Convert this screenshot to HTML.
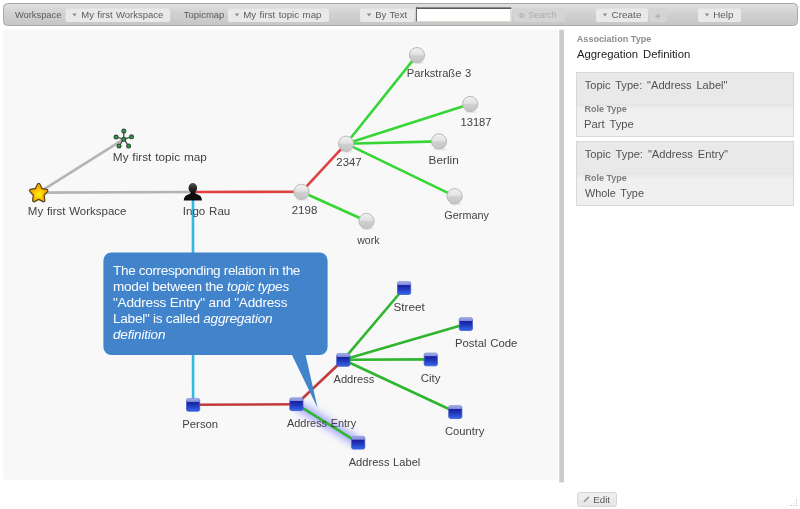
<!DOCTYPE html>
<html><head><meta charset="utf-8"><title>DeepaMehta</title>
<style>
html,body{margin:0;padding:0;background:#fff;width:800px;height:509px;overflow:hidden}
svg{display:block;position:absolute;left:0;top:0}
text{font-family:"Liberation Sans",sans-serif;opacity:0.99}
.lb{font-size:10px;fill:#404040;word-spacing:0.5px}
.tb{font-size:8.6px;fill:#5a5a5a;word-spacing:0.7px}
.tbd{font-size:8.6px;fill:#aaaaaa}
.sb{font-size:10px;fill:#505050;word-spacing:1.6px}
.sh{font-size:8.5px;font-weight:bold;fill:#7c7c7c}
.co{font-size:13.6px;fill:#fff}
</style></head><body>
<svg width="800" height="509" viewBox="0 0 800 509">
<defs>
<linearGradient id="tbg" x1="0" y1="0" x2="0" y2="1"><stop offset="0" stop-color="#e0e0e0"/><stop offset="0.5" stop-color="#d0d0d0"/><stop offset="1" stop-color="#c6c6c6"/></linearGradient>
<linearGradient id="ball" x1="0" y1="0" x2="0" y2="1"><stop offset="0" stop-color="#f2f2f2"/><stop offset="0.45" stop-color="#e2e2e2"/><stop offset="0.55" stop-color="#cfcfcf"/><stop offset="1" stop-color="#c4c4c4"/></linearGradient>
<linearGradient id="sq" x1="0" y1="0" x2="0" y2="1"><stop offset="0" stop-color="#aab4ea"/><stop offset="0.08" stop-color="#98a4e4"/><stop offset="0.24" stop-color="#7c8cd8"/><stop offset="0.28" stop-color="#1a1fa0"/><stop offset="0.55" stop-color="#2034b6"/><stop offset="1" stop-color="#3468ea"/></linearGradient>
<linearGradient id="sqb" x1="0" y1="0" x2="0" y2="1"><stop offset="0" stop-color="#8c98dc"/><stop offset="0.25" stop-color="#5060c0"/><stop offset="1" stop-color="#3454d0"/></linearGradient>
<radialGradient id="starg" cx="0.5" cy="0.55" r="0.5"><stop offset="0" stop-color="#ffe800"/><stop offset="0.6" stop-color="#ffb000"/><stop offset="1" stop-color="#f09000"/></radialGradient>
<radialGradient id="starg2" cx="0.5" cy="0.55" r="0.5"><stop offset="0" stop-color="#fff000"/><stop offset="0.35" stop-color="#ffd800"/><stop offset="0.8" stop-color="#fbb000" stop-opacity="0.6"/><stop offset="1" stop-color="#f7a800" stop-opacity="0"/></radialGradient>
<clipPath id="starclip"><path d="M0.00 -8.30 L2.53 -3.48 L7.89 -2.56 L4.09 1.33 L4.88 6.71 L0.00 4.30 L-4.88 6.71 L-4.09 1.33 L-7.89 -2.56 L-2.53 -3.48Z"/></clipPath>
<linearGradient id="headg" x1="0" y1="0" x2="0" y2="1"><stop offset="0" stop-color="#555"/><stop offset="0.5" stop-color="#2a2a2a"/><stop offset="1" stop-color="#0c0c0c"/></linearGradient>
<linearGradient id="edg" x1="0" y1="0" x2="0" y2="1"><stop offset="0" stop-color="#efefef"/><stop offset="0.5" stop-color="#ebebeb"/><stop offset="0.55" stop-color="#e7e7e7"/><stop offset="1" stop-color="#e7e7e7"/></linearGradient>
<linearGradient id="hdr" x1="0" y1="0" x2="0" y2="1"><stop offset="0" stop-color="#e4e4e4"/><stop offset="1" stop-color="#efefef"/></linearGradient>
<filter id="glow" x="-50%" y="-50%" width="200%" height="200%"><feGaussianBlur stdDeviation="3.6"/></filter>
</defs>

<rect x="3.5" y="3.5" width="794" height="22" rx="4" ry="4" fill="url(#tbg)" stroke="#a8a8a8"/>
<rect x="3" y="29.7" width="555" height="450" fill="#f8f8f8"/>
<rect x="559.2" y="29.7" width="4.8" height="452.7" fill="#cccccc"/>
<text class="tb" x="14.96" y="18.4" textLength="46.45" lengthAdjust="spacingAndGlyphs" >Workspace</text>
<rect x="65.5" y="8.5" width="104.5" height="13.5" rx="2" fill="#e9e9e9"/>
<path d="M72.2 13.6 h4.6 l-2.3 2.8 z" fill="#8c8c8c"/>
<text class="tb" x="81.22" y="18.4" textLength="82.20" lengthAdjust="spacingAndGlyphs" >My first Workspace</text>
<text class="tb" x="183.79" y="18.4" textLength="40.60" lengthAdjust="spacingAndGlyphs" >Topicmap</text>
<rect x="228" y="8.5" width="101" height="13.5" rx="2" fill="#e9e9e9"/>
<path d="M234.7 13.6 h4.6 l-2.3 2.8 z" fill="#8c8c8c"/>
<text class="tb" x="243.21" y="18.4" textLength="78.20" lengthAdjust="spacingAndGlyphs" >My first topic map</text>
<rect x="360" y="8.5" width="54.60000000000002" height="13.5" rx="2" fill="#e9e9e9"/>
<path d="M366.7 13.6 h4.6 l-2.3 2.8 z" fill="#8c8c8c"/>
<text class="tb" x="375.25" y="18.4" textLength="31.82" lengthAdjust="spacingAndGlyphs" >By Text</text>
<rect x="416" y="7" width="95.300" height="15" fill="#fff"/><rect x="416" y="21" width="95.300" height="1" fill="#dcd8cc"/><rect x="510.300" y="8" width="1" height="14" fill="#dcd8cc"/><rect x="416" y="7" width="95.300" height="1" fill="#8a8a8a"/><rect x="416" y="8" width="95.300" height="1" fill="#5a5a5a"/><rect x="416" y="7" width="1" height="14.500" fill="#6a6a6a"/>
<rect x="513" y="8.5" width="52" height="13.5" rx="2" fill="#d4d4d4"/>
<text class="tbd" x="528.60" y="18.4" textLength="27.97" lengthAdjust="spacingAndGlyphs" >Search</text>
<circle cx="521.600" cy="15.400" r="1.500" fill="none" stroke="#b4b4b4" stroke-width="1.300"/><circle cx="521.600" cy="15.400" r="2.500" fill="none" stroke="#b8b8b8" stroke-width="1" stroke-dasharray="0.980 0.980"/>
<rect x="596" y="8.5" width="52" height="13.5" rx="2" fill="#e9e9e9"/>
<path d="M602.7 13.6 h4.6 l-2.3 2.8 z" fill="#8c8c8c"/>
<text class="tb" x="611.49" y="18.4" textLength="29.95" lengthAdjust="spacingAndGlyphs" >Create</text>
<rect x="649.6" y="8.5" width="16.899999999999977" height="13.5" rx="2" fill="#d4d4d4"/>
<path d="M655.300 16.100 h5.400 M658 13.400 v5.400" stroke="#b6b6b6" stroke-width="1.6"/>
<rect x="698" y="8.5" width="43" height="13.5" rx="2" fill="#e9e9e9"/>
<path d="M704.7 13.6 h4.6 l-2.3 2.8 z" fill="#8c8c8c"/>
<text class="tb" x="713.19" y="18.4" textLength="20.22" lengthAdjust="spacingAndGlyphs" >Help</text>
<line x1="38.7" y1="192.6" x2="123.8" y2="139.2" stroke="#b4b4b4" stroke-width="2.6" />
<line x1="38.7" y1="192.6" x2="193" y2="192" stroke="#b4b4b4" stroke-width="2.6" />
<line x1="193" y1="192" x2="301.5" y2="191.8" stroke="#e04242" stroke-width="2.6" />
<line x1="301.5" y1="191.8" x2="346.1" y2="143.7" stroke="#e04242" stroke-width="2.6" />
<line x1="346.1" y1="143.7" x2="417" y2="55.1" stroke="#35d635" stroke-width="2.6" />
<line x1="346.1" y1="143.7" x2="470.2" y2="104" stroke="#35d635" stroke-width="2.6" />
<line x1="346.1" y1="143.7" x2="439" y2="141.4" stroke="#35d635" stroke-width="2.6" />
<line x1="346.1" y1="143.7" x2="454.6" y2="196.2" stroke="#35d635" stroke-width="2.6" />
<line x1="301.5" y1="191.8" x2="366.5" y2="221" stroke="#35d635" stroke-width="2.6" />
<line x1="193" y1="192" x2="193.1" y2="404.8" stroke="#33b9e0" stroke-width="2.6" />
<line x1="193.1" y1="404.8" x2="296.4" y2="404.2" stroke="#c43a3a" stroke-width="2.6" />
<line x1="296.4" y1="404.2" x2="343.3" y2="359.8" stroke="#c43a3a" stroke-width="2.6" />
<line x1="343.3" y1="359.8" x2="404.1" y2="288" stroke="#2fb52f" stroke-width="2.6" />
<line x1="343.3" y1="359.8" x2="465.9" y2="324" stroke="#2fb52f" stroke-width="2.6" />
<line x1="343.3" y1="359.8" x2="430.8" y2="359.4" stroke="#2fb52f" stroke-width="2.6" />
<line x1="343.3" y1="359.8" x2="455.3" y2="412" stroke="#2fb52f" stroke-width="2.6" />
<line x1="296.4" y1="404.2" x2="358.2" y2="442.7" stroke="#9090ff" stroke-width="10" filter="url(#glow)" opacity="0.7"/>
<line x1="296.4" y1="404.2" x2="358.2" y2="442.7" stroke="#2fb52f" stroke-width="2.6" />
<ellipse cx="417.8" cy="62.7" rx="6.2" ry="1.6" fill="#000" opacity="0.07"/><circle cx="417" cy="55.1" r="7.6" fill="url(#ball)" stroke="#b9b9b9" stroke-width="1"/>
<ellipse cx="471.0" cy="111.6" rx="6.2" ry="1.6" fill="#000" opacity="0.07"/><circle cx="470.2" cy="104" r="7.6" fill="url(#ball)" stroke="#b9b9b9" stroke-width="1"/>
<ellipse cx="439.8" cy="149.0" rx="6.2" ry="1.6" fill="#000" opacity="0.07"/><circle cx="439" cy="141.4" r="7.6" fill="url(#ball)" stroke="#b9b9b9" stroke-width="1"/>
<ellipse cx="346.90000000000003" cy="151.3" rx="6.2" ry="1.6" fill="#000" opacity="0.07"/><circle cx="346.1" cy="143.7" r="7.6" fill="url(#ball)" stroke="#b9b9b9" stroke-width="1"/>
<ellipse cx="455.40000000000003" cy="203.8" rx="6.2" ry="1.6" fill="#000" opacity="0.07"/><circle cx="454.6" cy="196.2" r="7.6" fill="url(#ball)" stroke="#b9b9b9" stroke-width="1"/>
<ellipse cx="302.3" cy="199.4" rx="6.2" ry="1.6" fill="#000" opacity="0.07"/><circle cx="301.5" cy="191.8" r="7.6" fill="url(#ball)" stroke="#b9b9b9" stroke-width="1"/>
<ellipse cx="367.3" cy="228.6" rx="6.2" ry="1.6" fill="#000" opacity="0.07"/><circle cx="366.5" cy="221" r="7.6" fill="url(#ball)" stroke="#b9b9b9" stroke-width="1"/>
<rect x="397.5" y="281.6" width="13.2" height="12.8" rx="1.8" ry="1.8" fill="url(#sq)" stroke="url(#sqb)" stroke-width="0.8"/>
<rect x="459.3" y="317.6" width="13.2" height="12.8" rx="1.8" ry="1.8" fill="url(#sq)" stroke="url(#sqb)" stroke-width="0.8"/>
<rect x="336.7" y="353.4" width="13.2" height="12.8" rx="1.8" ry="1.8" fill="url(#sq)" stroke="url(#sqb)" stroke-width="0.8"/>
<rect x="424.2" y="353.0" width="13.2" height="12.8" rx="1.8" ry="1.8" fill="url(#sq)" stroke="url(#sqb)" stroke-width="0.8"/>
<rect x="448.7" y="405.6" width="13.2" height="12.8" rx="1.8" ry="1.8" fill="url(#sq)" stroke="url(#sqb)" stroke-width="0.8"/>
<rect x="351.6" y="436.3" width="13.2" height="12.8" rx="1.8" ry="1.8" fill="url(#sq)" stroke="url(#sqb)" stroke-width="0.8"/>
<rect x="186.5" y="398.4" width="13.2" height="12.8" rx="1.8" ry="1.8" fill="url(#sq)" stroke="url(#sqb)" stroke-width="0.8"/>
<rect x="289.8" y="397.8" width="13.2" height="12.8" rx="1.8" ry="1.8" fill="url(#sq)" stroke="url(#sqb)" stroke-width="0.8"/>
<g transform="translate(38.7 193.4) scale(1 1.05)"><path d="M0.00 -8.30 L2.53 -3.48 L7.89 -2.56 L4.09 1.33 L4.88 6.71 L0.00 4.30 L-4.88 6.71 L-4.09 1.33 L-7.89 -2.56 L-2.53 -3.48Z" fill="#574316" stroke="#574316" stroke-width="3.700" stroke-linejoin="round"/><path d="M0.00 -8.30 L2.53 -3.48 L7.89 -2.56 L4.09 1.33 L4.88 6.71 L0.00 4.30 L-4.88 6.71 L-4.09 1.33 L-7.89 -2.56 L-2.53 -3.48Z" fill="#f7a800" stroke="#f7a800" stroke-width="1.300" stroke-linejoin="round"/><circle r="9" fill="url(#starg2)" clip-path="url(#starclip)"/></g>
<line x1="123.8" y1="139.2" x2="123.8" y2="131" stroke="#404a44" stroke-width="1.3"/>
<line x1="123.8" y1="139.2" x2="116.1" y2="137" stroke="#404a44" stroke-width="1.3"/>
<line x1="123.8" y1="139.2" x2="131.5" y2="136.8" stroke="#404a44" stroke-width="1.3"/>
<line x1="123.8" y1="139.2" x2="119" y2="146" stroke="#404a44" stroke-width="1.3"/>
<line x1="123.8" y1="139.2" x2="128.6" y2="146" stroke="#404a44" stroke-width="1.3"/>
<circle cx="123.8" cy="131" r="1.9" fill="#1fa845" stroke="#33503e" stroke-width="1.2"/>
<circle cx="116.1" cy="137" r="1.9" fill="#1fa845" stroke="#33503e" stroke-width="1.2"/>
<circle cx="131.5" cy="136.8" r="1.9" fill="#1fa845" stroke="#33503e" stroke-width="1.2"/>
<circle cx="119" cy="146" r="1.9" fill="#1fa845" stroke="#33503e" stroke-width="1.2"/>
<circle cx="128.6" cy="146" r="1.9" fill="#1fa845" stroke="#33503e" stroke-width="1.2"/>
<circle cx="123.8" cy="139.2" r="1.9" fill="#1fa845" stroke="#33503e" stroke-width="1.2"/>
<g><path d="M183.800 200.400 c0.200 -4.800 3.800 -5.600 6.600 -6.800 l0.300 -1.500 h4.400 l0.300 1.500 c2.800 1.200 6.400 2 6.600 6.800 z" fill="#0c0c0c"/><ellipse cx="192.800" cy="187.900" rx="4.300" ry="4.900" fill="url(#headg)"/></g>
<text class="lb" x="27.86" y="215" textLength="98.55" lengthAdjust="spacingAndGlyphs" >My first Workspace</text>
<text class="lb" x="112.83" y="161" textLength="93.96" lengthAdjust="spacingAndGlyphs" >My first topic map</text>
<text class="lb" x="182.83" y="215" textLength="47.43" lengthAdjust="spacingAndGlyphs" >Ingo Rau</text>
<text class="lb" x="291.72" y="214" textLength="25.58" lengthAdjust="spacingAndGlyphs" >2198</text>
<text class="lb" x="336.33" y="166" textLength="25.24" lengthAdjust="spacingAndGlyphs" >2347</text>
<text class="lb" x="406.78" y="77" textLength="64.51" lengthAdjust="spacingAndGlyphs" >Parkstraße 3</text>
<text class="lb" x="460.45" y="126" textLength="31.12" lengthAdjust="spacingAndGlyphs" >13187</text>
<text class="lb" x="428.63" y="164" textLength="30.13" lengthAdjust="spacingAndGlyphs" >Berlin</text>
<text class="lb" x="444.36" y="219" textLength="44.46" lengthAdjust="spacingAndGlyphs" >Germany</text>
<text class="lb" x="357.22" y="244" textLength="22.27" lengthAdjust="spacingAndGlyphs" >work</text>
<text class="lb" x="393.47" y="311" textLength="31.22" lengthAdjust="spacingAndGlyphs" >Street</text>
<text class="lb" x="454.97" y="347" textLength="62.44" lengthAdjust="spacingAndGlyphs" >Postal Code</text>
<text class="lb" x="333.48" y="383" textLength="40.92" lengthAdjust="spacingAndGlyphs" >Address</text>
<text class="lb" x="420.72" y="382" textLength="19.70" lengthAdjust="spacingAndGlyphs" >City</text>
<text class="lb" x="445.03" y="435" textLength="39.29" lengthAdjust="spacingAndGlyphs" >Country</text>
<text class="lb" x="348.68" y="466" textLength="71.67" lengthAdjust="spacingAndGlyphs" >Address Label</text>
<text class="lb" x="182.27" y="428" textLength="35.86" lengthAdjust="spacingAndGlyphs" >Person</text>
<text class="lb" x="286.98" y="427" textLength="69.24" lengthAdjust="spacingAndGlyphs" >Address Entry</text>
<path d="M111.400 252.400 h208.200 a8 8 0 0 1 8 8 v86.600 a8 8 0 0 1 -8 8 h-14 L317.600 408 L292 355 h-180.600 a8 8 0 0 1 -8 -8 v-86.600 a8 8 0 0 1 8 -8 z" fill="#4284cb"/>
<text class="co" x="113" y="275" textLength="187.4" lengthAdjust="spacing">The corresponding relation in the</text>
<text class="co" x="113" y="291" textLength="176.2" lengthAdjust="spacing">model between the <tspan font-style="italic">topic types</tspan></text>
<text class="co" x="113" y="307" textLength="174.5" lengthAdjust="spacing">"Address Entry" and "Address</text>
<text class="co" x="113" y="323" textLength="159.5" lengthAdjust="spacing">Label" is called <tspan font-style="italic">aggregation</tspan></text>
<text class="co" x="113" y="339" textLength="52.5" lengthAdjust="spacing"><tspan font-style="italic">definition</tspan></text>
<text class="sh" x="576.78" y="41.5" textLength="74.53" lengthAdjust="spacingAndGlyphs" style="fill:#8c8c8c">Association Type</text>
<text class="sb" x="576.98" y="58" textLength="113.26" lengthAdjust="spacingAndGlyphs" style="fill:#1a1a1a">Aggregation Definition</text>
<rect x="576.5" y="72.5" width="217" height="64" fill="#f0f0f0" stroke="#d8d8d8"/>
<rect x="577" y="73" width="216" height="31" fill="#e9e9e9"/>
<rect x="577" y="104" width="216" height="5" fill="url(#hdr)"/>
<text class="sb" x="584.76" y="89" textLength="142.71" lengthAdjust="spacingAndGlyphs" >Topic Type: "Address Label"</text>
<text class="sh" x="584.41" y="111.6" textLength="42.50" lengthAdjust="spacingAndGlyphs" >Role Type</text>
<text class="sb" x="584.09" y="128.2" textLength="49.70" lengthAdjust="spacingAndGlyphs" >Part Type</text>
<rect x="576.5" y="141.5" width="217" height="64" fill="#f0f0f0" stroke="#d8d8d8"/>
<rect x="577" y="142" width="216" height="31" fill="#e9e9e9"/>
<rect x="577" y="173" width="216" height="5" fill="url(#hdr)"/>
<text class="sb" x="584.75" y="158" textLength="143.22" lengthAdjust="spacingAndGlyphs" >Topic Type: "Address Entry"</text>
<text class="sh" x="584.41" y="180.6" textLength="42.50" lengthAdjust="spacingAndGlyphs" >Role Type</text>
<text class="sb" x="584.95" y="197.2" textLength="59.02" lengthAdjust="spacingAndGlyphs" >Whole Type</text>
<rect x="577.500" y="492.500" width="39" height="14" rx="2" fill="url(#edg)" stroke="#d6d6d6"/>
<path d="M583.900 501.800 L588.900 496.900" stroke="#909090" stroke-width="1.400"/>
<text class="tb" x="593.20" y="502.5" textLength="16.88" lengthAdjust="spacingAndGlyphs" >Edit</text>
<g><rect x="796" y="500" width="1" height="1" fill="#a8a8a8"/><rect x="796" y="502.400" width="1" height="1" fill="#b4b4b4"/><rect x="793.500" y="502.400" width="1" height="1" fill="#d0d0d0"/><rect x="790.800" y="505" width="1" height="1" fill="#b0b0b0"/><rect x="793.500" y="505" width="1" height="1" fill="#c0c0c0"/><rect x="796" y="505" width="1" height="1" fill="#a8a8a8"/></g>
</svg></body></html>
